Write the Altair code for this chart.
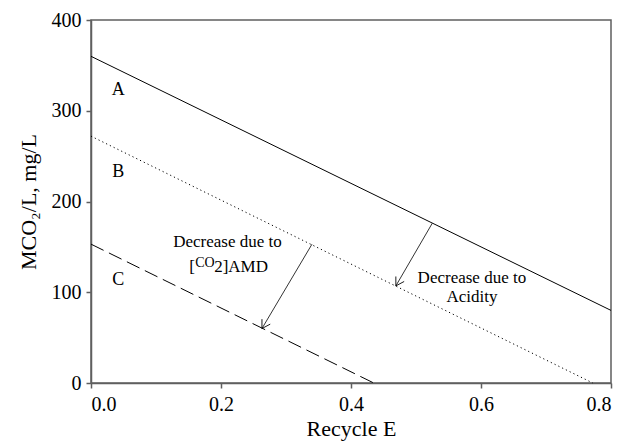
import altair as alt
import pandas as pd

FONT = "Liberation Serif"

# Lines (straight lines defined by their end points)
a_x = [0.0, 0.8]
a_y = [360, 80]
b_x = [0.0, 0.772]
b_y = [272, 0]
c_x = [0.0, 0.435]
c_y = [153, 0]

# Curve letters
letter_text = ["A", "B", "C"]
letter_x = [0.042, 0.042, 0.042]
letter_y = [323, 232, 113]

# Arrows (start on upper line, end on lower line)
arrow_x = [0.525, 0.34]
arrow_y = [176, 153]
arrow_x2 = [0.469, 0.263]
arrow_y2 = [107, 60]

# Annotation texts
ann_text = ["Decrease due to", "Decrease due to", "Acidity"]
ann_x = [0.21, 0.586, 0.586]
ann_y = [155, 116, 95]

amd_x = [0.151]
amd_y = [128]

df_a = pd.DataFrame({"x": a_x, "y": a_y})
df_b = pd.DataFrame({"x": b_x, "y": b_y})
df_c = pd.DataFrame({"x": c_x, "y": c_y})
df_letters = pd.DataFrame({"x": letter_x, "y": letter_y, "t": letter_text})
df_arrows = pd.DataFrame({"x": arrow_x, "y": arrow_y, "x2": arrow_x2, "y2": arrow_y2})
df_ann = pd.DataFrame({"x": ann_x, "y": ann_y, "t": ann_text})
df_amd = pd.DataFrame({"x": amd_x, "y": amd_y})

AXCOL = "#5f5f5f"
xs = alt.Scale(domain=[0, 0.8], nice=False)
ys = alt.Scale(domain=[0, 400], nice=False)

X = alt.X("x:Q", scale=xs,
          axis=alt.Axis(title="Recycle E", values=[0, 0.2, 0.4, 0.6, 0.8], format=".1f",
                        grid=False, tickSize=5, labelPadding=6, titlePadding=4))
Y = alt.Y("y:Q", scale=ys,
          axis=alt.Axis(title="MCO₂/L, mg/L", values=[0, 100, 200, 300, 400],
                        grid=False, tickSize=5, labelPadding=5, titlePadding=11))

line_a = alt.Chart(df_a).mark_line(color="black", strokeWidth=1).encode(x=X, y=Y)
line_b = alt.Chart(df_b).mark_line(color="black", strokeWidth=1, strokeDash=[1.2, 3]).encode(x="x:Q", y="y:Q")
line_c = alt.Chart(df_c).mark_line(color="black", strokeWidth=1, strokeDash=[14, 6]).encode(x="x:Q", y="y:Q")

letters = alt.Chart(df_letters).mark_text(font=FONT, fontSize=18, color="black").encode(
    x="x:Q", y="y:Q", text="t:N")

shafts = alt.Chart(df_arrows).mark_rule(color="black", strokeWidth=0.8).encode(
    x="x:Q", y="y:Q", x2="x2:Q", y2="y2:Q")

heads = alt.Chart(df_arrows).mark_point(
    shape="M-1,-0.6L0,0L-1,0.6", filled=False, color="black", strokeWidth=0.8,
    size=260, angle=121, opacity=1).encode(x="x2:Q", y="y2:Q")

ann = alt.Chart(df_ann).mark_text(font=FONT, fontSize=17, color="black").encode(
    x="x:Q", y="y:Q", text="t:N")

amd1 = alt.Chart(df_amd).mark_text(font=FONT, fontSize=17, color="black", align="left",
                                   text="[").encode(x="x:Q", y="y:Q")
amd2 = alt.Chart(df_amd).mark_text(font=FONT, fontSize=14, color="black", align="left",
                                   text="CO", dx=6, dy=-4).encode(x="x:Q", y="y:Q")
amd3 = alt.Chart(df_amd).mark_text(font=FONT, fontSize=17, color="black", align="left",
                                   text="2]AMD", dx=25).encode(x="x:Q", y="y:Q")

chart = alt.layer(line_a, line_b, line_c, letters, shafts, heads, ann, amd1, amd2, amd3).properties(
    width=520, height=363,
    background="white",
    autosize=alt.AutoSizeParams(type="none"),
    padding={"left": 91, "top": 20, "right": 13, "bottom": 61},
).configure_view(
    stroke=AXCOL, strokeWidth=1.5
).configure_axis(
    domainColor=AXCOL, domainWidth=1.5, tickColor=AXCOL, tickWidth=1.5,
    labelFont=FONT, labelFontSize=20, labelColor="black",
    titleFont=FONT, titleFontSize=22, titleFontWeight="normal", titleColor="black",
)

chart.save("out.html", embed_options={"renderer": "svg", "actions": False})
